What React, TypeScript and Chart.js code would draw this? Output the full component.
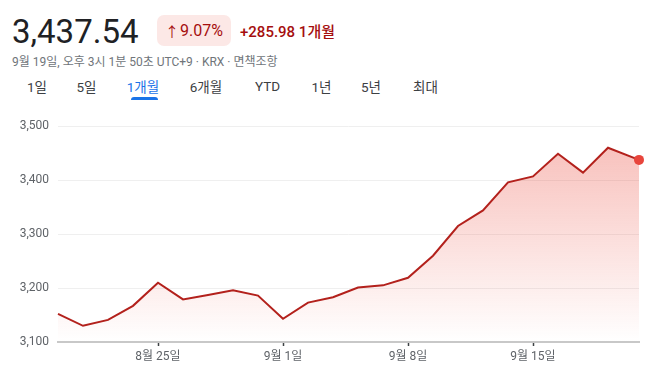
import React, { useEffect, useRef } from "react";
import { Chart, registerables } from "chart.js";

Chart.register(...registerables);

// Trading-day index (last point is the intraday reading on 9/19)
const dayIndex = [0, 1, 2, 3, 4, 5, 6, 7, 8, 9, 10, 11, 12, 13, 14, 15, 16, 17, 18, 19, 20, 21, 22, 23.24];
const closeValues = [
  3152, 3130, 3141, 3167, 3210, 3179, 3187, 3196, 3186, 3143, 3173, 3183,
  3201, 3205, 3219, 3260, 3315, 3344, 3396, 3407, 3449, 3414, 3460, 3437.54,
];
const xTickIndex = [4, 9, 14, 19];
const xTickLabels = ["8월 25일", "9월 1일", "9월 8일", "9월 15일"];
const yMin = 3100;
const yMax = 3500;
const yStep = 100;

const headerValue = "3,437.54";
const changeArrow = "↑";
const changePct = "9.07%";
const changeAbs = "+285.98 1개월";
const subtitle = "9월 19일, 오후 3시 1분 50초 UTC+9 · KRX · 면책조항";
const tabs = ["1일", "5일", "1개월", "6개월", "YTD", "1년", "5년", "최대"];
const tabCenters = [37, 86.5, 143, 206, 267.5, 321.5, 371, 425.5];
const activeTab = 2;

const FONT = "Roboto, 'Noto Sans CJK KR', 'Noto Sans', sans-serif";

export default function App() {
  const canvasRef = useRef<HTMLCanvasElement | null>(null);

  useEffect(() => {
    const canvas = canvasRef.current;
    if (!canvas) return;
    const chart = new Chart(canvas, {
      type: "line",
      data: {
        datasets: [
          {
            data: dayIndex.map((x, i) => ({ x, y: closeValues[i] })),
            borderColor: "#b3211c",
            borderWidth: 2,
            tension: 0,
            clip: false,
            fill: "start",
            backgroundColor: (ctx: any) => {
              const { chart } = ctx;
              const area = chart.chartArea;
              if (!area) return "rgba(234,67,53,0.15)";
              const g = chart.ctx.createLinearGradient(0, area.top, 0, area.bottom);
              g.addColorStop(0, "rgba(234,67,53,0.36)");
              g.addColorStop(1, "rgba(234,67,53,0)");
              return g;
            },
            pointRadius: closeValues.map((_, i) => (i === closeValues.length - 1 ? 5 : 0)),
            pointBackgroundColor: "#e8453c",
            pointBorderColor: "#e8453c",
            pointBorderWidth: 0,
          },
        ],
      },
      options: {
        responsive: false,
        animation: false,
        devicePixelRatio: 1,
        layout: { padding: { top: 16, right: 19, left: 0, bottom: 0 } },
        plugins: { legend: { display: false }, tooltip: { enabled: false } },
        scales: {
          x: {
            type: "linear",
            min: dayIndex[0],
            max: dayIndex[dayIndex.length - 1],
            afterBuildTicks: (axis: any) => {
              axis.ticks = xTickIndex.map((v) => ({ value: v }));
            },
            afterFit: (s: any) => {
              s.height = 42;
            },
            ticks: {
              autoSkip: false,
              maxRotation: 0,
              padding: 4,
              color: "#5f6368",
              font: { family: FONT, size: 12 },
              callback: (v: any) => {
                const k = xTickIndex.indexOf(Number(v));
                return k >= 0 ? xTickLabels[k] : "";
              },
            },
            grid: {
              drawOnChartArea: false,
              drawTicks: true,
              tickLength: 4,
              tickColor: "#3c4043",
              tickWidth: 1.5,
            },
            border: { display: true, color: "#c8c8c8", width: 2 },
          },
          y: {
            min: yMin,
            max: yMax,
            afterFit: (s: any) => {
              s.width = 58;
            },
            ticks: {
              stepSize: yStep,
              padding: 9,
              color: "#5f6368",
              font: { family: FONT, size: 12 },
              callback: (v: any) => Number(v).toLocaleString("en-US"),
            },
            grid: { color: "#efefef", lineWidth: 1, drawTicks: false },
            border: { display: false },
          },
        },
      },
    } as any);
    return () => chart.destroy();
  }, []);

  return (
    <div
      style={{
        position: "fixed",
        left: 0,
        top: 0,
        width: 658,
        height: 384,
        background: "#fff",
        overflow: "hidden",
        fontFamily: FONT,
      }}
    >
      <div
        style={{
          position: "absolute",
          left: 12,
          top: 15,
          fontSize: 33,
          lineHeight: 1,
          color: "#202124",
          whiteSpace: "nowrap",
        }}
      >
        {headerValue}
      </div>
      <div
        style={{
          position: "absolute",
          left: 157,
          top: 15,
          width: 74,
          height: 31,
          borderRadius: 7,
          background: "#fce8e6",
          color: "#a50e0e",
          fontSize: 16,
          display: "flex",
          alignItems: "center",
          justifyContent: "center",
          whiteSpace: "nowrap",
        }}
      >
        <span style={{ fontSize: 14, fontFamily: "'Noto Sans CJK KR', sans-serif", marginRight: 1 }}>
          {changeArrow}
        </span>
        {changePct}
      </div>
      <div
        style={{
          position: "absolute",
          left: 240,
          top: 15,
          height: 31,
          color: "#a50e0e",
          fontSize: 15,
          fontWeight: 500,
          display: "flex",
          alignItems: "center",
          whiteSpace: "nowrap",
        }}
      >
        {changeAbs}
      </div>
      <div
        style={{
          position: "absolute",
          left: 12,
          top: 52,
          height: 16,
          fontSize: 12,
          color: "#70757a",
          display: "flex",
          alignItems: "center",
          whiteSpace: "nowrap",
        }}
      >
        {subtitle}
      </div>
      {tabs.map((t, i) => (
        <div
          key={t}
          style={{
            position: "absolute",
            left: tabCenters[i],
            top: 77,
            height: 18,
            transform: "translateX(-50%)",
            fontSize: 13.5,
            color: i === activeTab ? "#1a73e8" : "#3c4043",
            display: "flex",
            alignItems: "center",
            whiteSpace: "nowrap",
          }}
        >
          {t}
        </div>
      ))}
      <div
        style={{
          position: "absolute",
          left: 131,
          top: 97,
          width: 27,
          height: 3,
          borderRadius: "3px 3px 0 0",
          background: "#1a73e8",
        }}
      />
      <canvas
        ref={canvasRef}
        width={658}
        height={274}
        style={{ position: "absolute", left: 0, top: 110, width: 658, height: 274 }}
      />
    </div>
  );
}
